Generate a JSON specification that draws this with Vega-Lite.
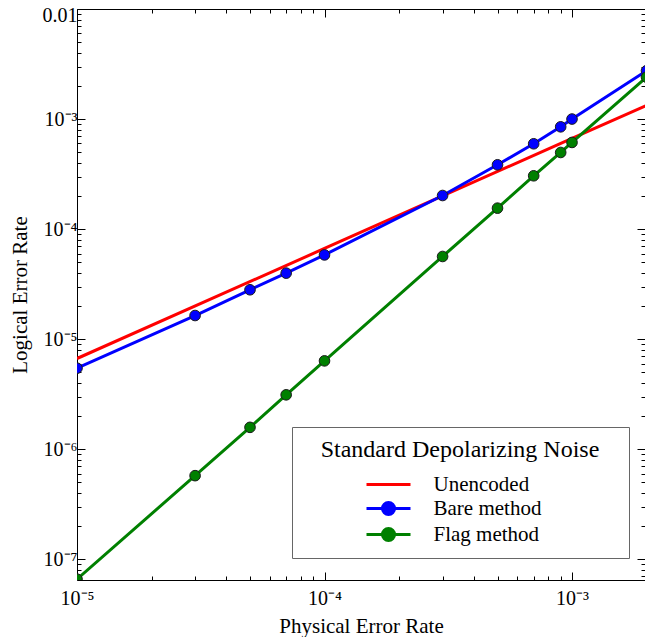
{
  "$schema": "https://vega.github.io/schema/vega-lite/v6.json",
  "autosize": {"type": "none"},
  "padding": {"left": 77, "top": 9, "right": 0, "bottom": 57},
  "width": 568,
  "height": 571,
  "background": "white",
  "config": {
    "view": {"stroke": null},
    "font": "Liberation Serif",
    "axis": {
      "grid": false,
      "labelFont": "Liberation Serif",
      "titleFont": "Liberation Serif",
      "labelFontSize": 20,
      "titleFontSize": 21,
      "titleFontWeight": "normal",
      "domainColor": "#000",
      "domainWidth": 1,
      "tickColor": "#000",
      "tickWidth": 1,
      "labelColor": "#000",
      "titleColor": "#000"
    }
  },
  "data": {
    "values": [
      {"series": "Unencoded", "p": 0.00001, "e": 0.00000667},
      {"series": "Unencoded", "p": 0.0001, "e": 0.0000667},
      {"series": "Unencoded", "p": 0.001, "e": 0.000667},
      {"series": "Unencoded", "p": 0.002, "e": 0.00133},
      {"series": "Bare method", "p": 0.00001, "e": 0.00000545},
      {"series": "Bare method", "p": 0.00003, "e": 0.0000164},
      {"series": "Bare method", "p": 0.00005, "e": 0.0000281},
      {"series": "Bare method", "p": 0.00007, "e": 0.0000398},
      {"series": "Bare method", "p": 0.0001, "e": 0.0000583},
      {"series": "Bare method", "p": 0.0003, "e": 0.000202},
      {"series": "Bare method", "p": 0.0005, "e": 0.000384},
      {"series": "Bare method", "p": 0.0007, "e": 0.000596},
      {"series": "Bare method", "p": 0.0009, "e": 0.00085},
      {"series": "Bare method", "p": 0.001, "e": 0.001},
      {"series": "Bare method", "p": 0.002, "e": 0.00275},
      {"series": "Flag method", "p": 0.00001, "e": 0.000000066},
      {"series": "Flag method", "p": 0.00003, "e": 0.000000575},
      {"series": "Flag method", "p": 0.00005, "e": 0.00000158},
      {"series": "Flag method", "p": 0.00007, "e": 0.00000312},
      {"series": "Flag method", "p": 0.0001, "e": 0.00000635},
      {"series": "Flag method", "p": 0.0003, "e": 0.0000564},
      {"series": "Flag method", "p": 0.0005, "e": 0.000155},
      {"series": "Flag method", "p": 0.0007, "e": 0.000305},
      {"series": "Flag method", "p": 0.0009, "e": 0.000497},
      {"series": "Flag method", "p": 0.001, "e": 0.000613},
      {"series": "Flag method", "p": 0.002, "e": 0.0024}
    ]
  },
  "layer": [
    {
      "mark": {"type": "line", "strokeWidth": 3, "clip": true},
      "encoding": {
        "x": {
          "field": "p", "type": "quantitative",
          "scale": {"type": "log", "domain": [0.00001, 0.001972], "nice": false},
          "axis": {
            "orient": "bottom",
            "title": "Physical Error Rate",
            "titleFont": "Liberation Serif",
            "titleFontSize": 21,
            "titleFontWeight": "normal",
            "titlePadding": 3,
            "values": [0.00001, 0.00002, 0.00003, 0.00004, 0.00005, 0.00006, 0.00007, 0.00008, 0.00009, 0.0001, 0.0002, 0.0003, 0.0004, 0.0005, 0.0006, 0.0007, 0.0008, 0.0009, 0.001],
            "labelExpr": "datum.value == 0.00001 ? '10⁻⁵' : datum.value == 0.0001 ? '10⁻⁴' : datum.value == 0.001 ? '10⁻³' : ''",
            "tickSize": {"condition": {"test": "indexof([0.00001, 0.0001, 0.001], datum.value) >= 0", "value": -8}, "value": -4},
            "labelPadding": 16,
            "labelFlush": false,
            "labelOverlap": false
          }
        },
        "y": {
          "field": "e", "type": "quantitative",
          "scale": {"type": "log", "domain": [0.0000000648, 0.01], "nice": false},
          "axis": {
            "orient": "left",
            "title": "Logical Error Rate",
            "titleFont": "Liberation Serif",
            "titleFontSize": 21,
            "titleFontWeight": "normal",
            "titlePadding": 12,
            "values": [0.00000007, 0.00000008, 0.00000009, 0.0000001, 0.0000002, 0.0000003, 0.0000004, 0.0000005, 0.0000006, 0.0000007, 0.0000008, 0.0000009, 0.000001, 0.000002, 0.000003, 0.000004, 0.000005, 0.000006, 0.000007, 0.000008, 0.000009, 0.00001, 0.00002, 0.00003, 0.00004, 0.00005, 0.00006, 0.00007, 0.00008, 0.00009, 0.0001, 0.0002, 0.0003, 0.0004, 0.0005, 0.0006, 0.0007, 0.0008, 0.0009, 0.001, 0.002, 0.003, 0.004, 0.005, 0.006, 0.007, 0.008, 0.009, 0.01],
            "labelExpr": "datum.value == 0.01 ? '0.01' : datum.value == 0.001 ? '10⁻³' : datum.value == 0.0001 ? '10⁻⁴' : datum.value == 0.00001 ? '10⁻⁵' : datum.value == 0.000001 ? '10⁻⁶' : datum.value == 0.0000001 ? '10⁻⁷' : ''",
            "tickSize": {"condition": {"test": "indexof([0.0000001, 0.000001, 0.00001, 0.0001, 0.001, 0.01], datum.value) >= 0", "value": -8}, "value": -4},
            "labelOffset": {"condition": {"test": "datum.value == 0.01", "value": 6}, "value": 0},
            "labelPadding": 8,
            "labelFlush": false,
            "labelOverlap": false
          }
        },
        "color": {
          "field": "series", "type": "nominal",
          "scale": {"domain": ["Unencoded", "Bare method", "Flag method"], "range": ["#ff0000", "#0000ff", "#008000"]},
          "legend": {
            "orient": "none",
            "legendX": 215,
            "legendY": 418,
            "title": "\u2800Standard Depolarizing Noise\u2800",
            "titleAnchor": "middle",
            "titleFont": "Liberation Serif",
            "titleFontSize": 24,
            "titleFontWeight": "normal",
            "titleColor": "#000",
            "titlePadding": 12,
            "titleLimit": 500,
            "labelFont": "Liberation Serif",
            "labelFontSize": 21,
            "labelColor": "#000",
            "labelLimit": 300,
            "padding": 11,
            "strokeColor": "#666",
            "fillColor": "white",
            "symbolSize": 121,
            "symbolStrokeWidth": 3,
            "symbolOffset": 0,
            "labelOffset": 34.5,
            "rowPadding": 1,
            "encode": {
              "symbols": {
                "update": {
                  "shape": {"signal": "datum.value === 'Unencoded' ? 'M-4,0H4' : 'M-4,0H4M1.1,0A1.1,1.1,0,1,1,-1.1,0A1.1,1.1,0,1,1,1.1,0Z'"},
                  "size": {"value": 121},
                  "fill": {"scale": "color", "field": "value"},
                  "stroke": {"scale": "color", "field": "value"},
                  "strokeWidth": {"value": 3},
                  "opacity": {"value": 1}
                }
              }
            }
          }
        }
      }
    },
    {
      "transform": [{"filter": "datum.series !== 'Unencoded'"}],
      "mark": {"type": "point", "filled": true, "size": 113, "stroke": "#1a1a1a", "strokeWidth": 1, "opacity": 1, "clip": true},
      "encoding": {
        "x": {
          "field": "p", "type": "quantitative",
          "axis": {
            "orient": "top",
            "title": null,
            "labels": false,
            "values": [0.00001, 0.00002, 0.00003, 0.00004, 0.00005, 0.00006, 0.00007, 0.00008, 0.00009, 0.0001, 0.0002, 0.0003, 0.0004, 0.0005, 0.0006, 0.0007, 0.0008, 0.0009, 0.001],
            "tickSize": {"condition": {"test": "indexof([0.00001, 0.0001, 0.001], datum.value) >= 0", "value": -8}, "value": -4}
          }
        },
        "y": {
          "field": "e", "type": "quantitative",
          "axis": {
            "orient": "right",
            "title": null,
            "labels": false,
            "values": [0.00000007, 0.00000008, 0.00000009, 0.0000001, 0.0000002, 0.0000003, 0.0000004, 0.0000005, 0.0000006, 0.0000007, 0.0000008, 0.0000009, 0.000001, 0.000002, 0.000003, 0.000004, 0.000005, 0.000006, 0.000007, 0.000008, 0.000009, 0.00001, 0.00002, 0.00003, 0.00004, 0.00005, 0.00006, 0.00007, 0.00008, 0.00009, 0.0001, 0.0002, 0.0003, 0.0004, 0.0005, 0.0006, 0.0007, 0.0008, 0.0009, 0.001, 0.002, 0.003, 0.004, 0.005, 0.006, 0.007, 0.008, 0.009, 0.01],
            "tickSize": {"condition": {"test": "indexof([0.0000001, 0.000001, 0.00001, 0.0001, 0.001, 0.01], datum.value) >= 0", "value": -8}, "value": -4}
          }
        },
        "color": {"field": "series", "type": "nominal", "legend": null}
      }
    }
  ],
  "resolve": {"axis": {"x": "independent", "y": "independent"}}
}
